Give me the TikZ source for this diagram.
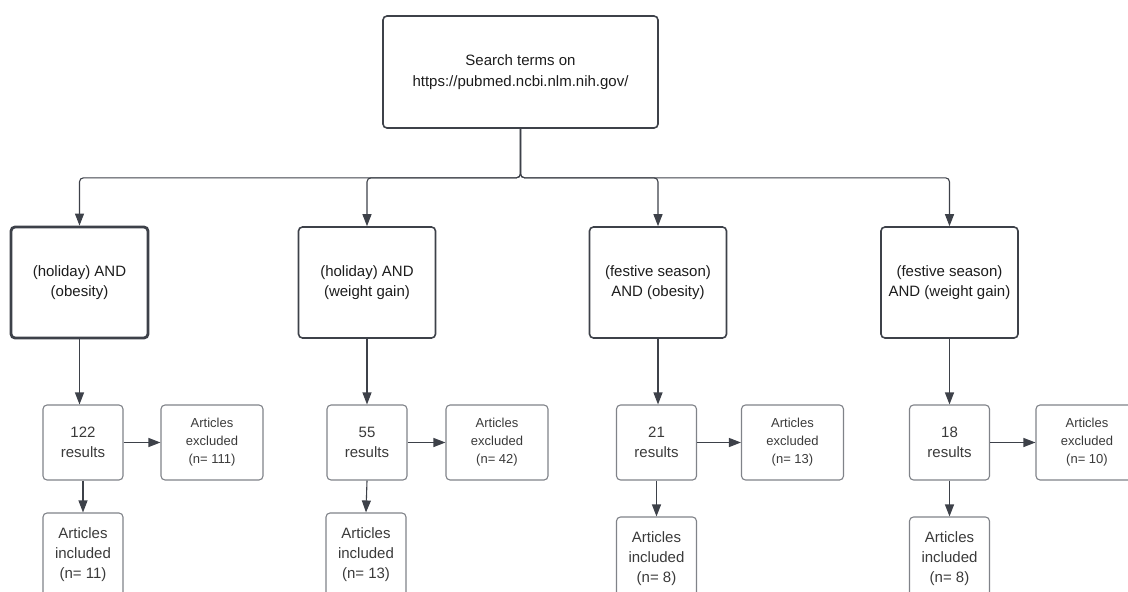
\documentclass[tikz,border=0pt]{standalone}
\usepackage{fontspec}
\setmainfont{Liberation Sans}
\usetikzlibrary{arrows.meta}
\definecolor{linec}{HTML}{3D4149}
\definecolor{smallc}{HTML}{808389}
\definecolor{textc}{HTML}{1C1C1C}
\definecolor{stext}{HTML}{3A3A3A}

\begin{document}
\begin{tikzpicture}[x=1pt,y=-1pt,
  termbox/.style={draw=linec, line width=1.6pt, rounded corners=4pt,
    minimum width=137pt, minimum height=111pt, align=center, text=textc,
    inner sep=0pt, font=\fontsize{15}{20.5}\selectfont},
  resbox/.style={draw=smallc, line width=1.1pt, rounded corners=4pt,
    minimum width=80pt, minimum height=75pt, align=center, text=stext,
    inner sep=0pt, font=\fontsize{15}{20}\selectfont},
  exbox/.style={draw=smallc, line width=1.1pt, rounded corners=4pt,
    minimum width=102pt, minimum height=75pt, align=center, text=stext,
    inner sep=0pt, font=\fontsize{13}{18}\selectfont},
  inbox/.style={draw=smallc, line width=1.1pt, rounded corners=4pt,
    minimum width=80pt, minimum height=84pt, align=center, text=stext,
    inner sep=0pt, font=\fontsize{15}{20}\selectfont},
  conn/.style={draw=linec, line width=1.1pt, rounded corners=4pt,
    -{Triangle[length=12pt,width=9pt]}},
]
\useasboundingbox (0,0) rectangle (1128,592);
\clip (0,0) rectangle (1128,592);

% search terms
\node[termbox, minimum width=275pt, minimum height=112pt] (top) at (520.5,72)
  {Search terms on\\https://pubmed.ncbi.nlm.nih.gov/};

% the four queries
\node[termbox, line width=2.8pt] (q1) at (79.5,282.5) {(holiday) AND\\(obesity)};
\node[termbox] (q2) at (367,282.5) {(holiday) AND\\(weight gain)};
\node[termbox] (q3) at (658,282.5) {(festive season)\\AND (obesity)};
\node[termbox] (q4) at (949.5,282.5) {(festive season)\\AND (weight gain)};

% results
\node[resbox] (r1) at (83,442.5) {122\\results};
\node[resbox] (r2) at (367,442.5) {55\\results};
\node[resbox] (r3) at (656.5,442.5) {21\\results};
\node[resbox] (r4) at (949.5,442.5) {18\\results};

% excluded
\node[exbox] (e1) at (212,442.5) {Articles\\excluded\\(n= 111)};
\node[exbox] (e2) at (497,442.5) {Articles\\excluded\\(n= 42)};
\node[exbox] (e3) at (792.5,442.5) {Articles\\excluded\\(n= 13)};
\node[exbox] (e4) at (1087,442.5) {Articles\\excluded\\(n= 10)};

% included
\node[inbox] (i1) at (83,555) {Articles\\included\\(n= 11)};
\node[inbox] (i2) at (366,555) {Articles\\included\\(n= 13)};
\node[inbox] (i3) at (656.5,559) {Articles\\included\\(n= 8)};
\node[inbox] (i4) at (949.5,559) {Articles\\included\\(n= 8)};

% branching from the search box
\foreach \q in {q1,q2,q3,q4}
  \draw[conn] (top.south) -- ++(0,49) -| (\q.north);

% query -> results
\draw[conn] (q1.south) -- (q1.south |- r1.north);
\draw[conn] (q2.south) -- (q2.south |- r2.north);
\draw[conn] (q3.south) -- (q3.south |- r3.north);
\draw[conn] (q4.south) -- (q4.south |- r4.north);

% results -> excluded / included
\foreach \n in {1,2,3,4} {
  \draw[conn] (r\n.east) -- (e\n.west);
  \draw[conn] (r\n.south) -- (i\n.north);
}
\end{tikzpicture}
\end{document}
